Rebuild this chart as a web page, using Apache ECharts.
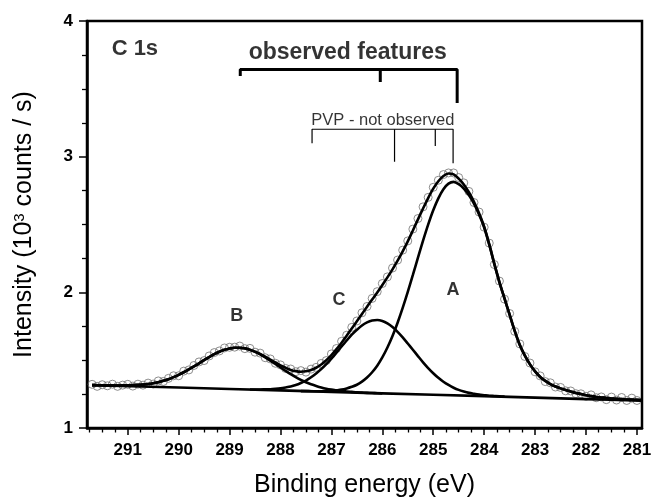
<!DOCTYPE html>
<html><head><meta charset="utf-8">
<script src="https://cdn.jsdelivr.net/npm/echarts@6/dist/echarts.min.js"></script>
<style>html,body{margin:0;padding:0;background:#fff}#c{width:654px;height:502px}</style>
</head><body><div id="c"></div>
<script>
// Binding energy grid (eV)
const energy = [291.7,291.6,291.5,291.4,291.3,291.2,291.1,291.0,
290.9,290.8,290.7,290.6,290.5,290.4,290.3,290.2,290.1,290.0,
289.9,289.8,289.7,289.6,289.5,289.4,289.3,289.2,289.1,289.0,
288.9,288.8,288.7,288.6,288.5,288.4,288.3,288.2,288.1,288.0,
287.9,287.8,287.7,287.6,287.5,287.4,287.3,287.2,287.1,287.0,
286.9,286.8,286.7,286.6,286.5,286.4,286.3,286.2,286.1,286.0,
285.9,285.8,285.7,285.6,285.5,285.4,285.3,285.2,285.1,285.0,
284.9,284.8,284.7,284.6,284.5,284.4,284.3,284.2,284.1,284.0,
283.9,283.8,283.7,283.6,283.5,283.4,283.3,283.2,283.1,283.0,
282.9,282.8,282.7,282.6,282.5,282.4,282.3,282.2,282.1,282.0,
281.9,281.8,281.7,281.6,281.5,281.4,281.3,281.2,281.1,281.0,
280.9];
// measured intensity (open circles), 291.7 .. 281.0
const measured = [1.322,1.307,1.319,1.311,1.323,1.307,1.316,1.322,
1.309,1.323,1.316,1.331,1.324,1.347,1.343,1.366,1.385,1.385,
1.419,1.428,1.461,1.487,1.497,1.531,1.556,1.568,1.590,1.595,
1.596,1.604,1.585,1.587,1.559,1.552,1.518,1.509,1.477,1.465,
1.439,1.435,1.415,1.423,1.412,1.434,1.447,1.476,1.497,1.546,
1.586,1.639,1.684,1.742,1.789,1.849,1.896,1.955,2.005,2.065,
2.114,2.179,2.238,2.311,2.379,2.466,2.544,2.630,2.700,2.774,
2.826,2.868,2.880,2.880,2.846,2.807,2.744,2.662,2.592,2.480,
2.363,2.205,2.083,1.950,1.844,1.712,1.620,1.527,1.479,1.414,
1.384,1.342,1.333,1.302,1.299,1.274,1.273,1.253,1.252,1.234,
1.244,1.223,1.229,1.209,1.228,1.206,1.225,1.203,1.220,1.203];
// total fit envelope, 291.7 .. 280.9
const fitTotal = [1.316,1.315,1.315,1.314,1.314,1.313,1.314,1.314,
1.316,1.318,1.320,1.324,1.330,1.338,1.348,1.360,1.375,1.392,
1.411,1.432,1.454,1.477,1.500,1.523,1.544,1.562,1.576,1.586,
1.592,1.592,1.588,1.577,1.563,1.546,1.526,1.504,1.483,1.462,
1.444,1.428,1.419,1.415,1.418,1.427,1.444,1.468,1.499,1.537,
1.581,1.629,1.680,1.734,1.786,1.840,1.894,1.947,1.999,2.054,
2.110,2.169,2.233,2.302,2.376,2.456,2.538,2.618,2.695,2.764,
2.819,2.858,2.876,2.870,2.838,2.795,2.738,2.667,2.583,2.484,
2.355,2.211,2.076,1.955,1.835,1.716,1.612,1.533,1.469,1.417,
1.376,1.347,1.324,1.306,1.292,1.280,1.269,1.258,1.250,1.241,
1.235,1.229,1.225,1.221,1.218,1.215,1.213,1.210,1.209,1.207,
1.206];
// component B (+ background), 291.7 .. 286.0
const peakBStart = 291.7;
const peakB = [1.316,1.315,1.315,1.314,1.314,1.313,1.314,1.314,
1.316,1.318,1.320,1.324,1.330,1.338,1.348,1.360,1.375,1.392,
1.411,1.432,1.454,1.477,1.500,1.523,1.544,1.562,1.576,1.586,
1.592,1.592,1.587,1.576,1.561,1.543,1.521,1.497,1.472,1.446,
1.421,1.397,1.375,1.355,1.337,1.322,1.310,1.299,1.290,1.283,
1.277,1.273,1.269,1.266,1.263,1.261,1.259,1.258,1.256,1.255];
// component C (+ background), 288.6 .. 283.6
const peakCStart = 288.6;
const peakC = [1.284,1.284,1.284,1.285,1.286,1.289,1.293,
1.299,1.306,1.317,1.332,1.350,1.374,1.402,1.434,1.471,1.512,
1.556,1.601,1.645,1.688,1.724,1.756,1.779,1.793,1.796,1.789,
1.771,1.744,1.709,1.668,1.623,1.577,1.530,1.484,1.442,1.404,
1.370,1.341,1.317,1.297,1.281,1.269,1.259,1.252,1.246,1.242,
1.238,1.236,1.234,1.231];
// component A (+ background), 287.6 .. 280.9
const peakAStart = 287.6;
const peakA = [1.272,1.272,1.271,1.271,1.271,1.272,1.274,
1.278,1.283,1.292,1.304,1.319,1.342,1.372,1.411,1.459,1.520,
1.593,1.678,1.776,1.885,2.003,2.128,2.256,2.381,2.499,2.605,
2.693,2.760,2.801,2.814,2.797,2.765,2.717,2.653,2.573,2.478,
2.351,2.208,2.074,1.954,1.835,1.716,1.612,1.533,1.469,1.417,
1.376,1.347,1.324,1.306,1.292,1.280,1.269,1.258,1.250,1.241,
1.235,1.229,1.225,1.221,1.218,1.215,1.213,1.210,1.209,1.207,
1.206];
// background
const bgEnergy = [291.7,290.0,288.0,286.0,284.0,282.0,280.9];
const bgValue = [1.316,1.298,1.277,1.255,1.235,1.213,1.201];
// axis ticks
const xMajorTicks = [281,282,283,284,285,286,287,288,289,290,291];
const xMinorTicks = [281.25,281.5,281.75,282.25,282.5,282.75,283.25,283.5,283.75,284.25,284.5,284.75,
285.25,285.5,285.75,286.25,286.5,286.75,287.25,287.5,287.75,288.25,288.5,288.75,
289.25,289.5,289.75,290.25,290.5,290.75,291.25,291.5,291.75];
const xMin = 280.9, xMax = 291.8;
// annotation brackets (data coordinates)
const observedX = [288.79, 286.04, 284.53];
const observedTop = 3.642;
const observedEnds = [3.594, 3.550, 3.395];
const pvpX = [287.38, 285.76, 284.96, 284.61];
const pvpTop = 3.202;
const pvpEnds = [3.098, 2.963, 3.079, 2.951];
// text annotations
const notes = [
  {text: 'C 1s', x: 290.86, y: 3.794, size: 22, weight: 'bold'},
  {text: 'observed features', x: 286.68, y: 3.764, size: 23, weight: 'bold'},
  {text: 'PVP - not observed', x: 285.99, y: 3.270, size: 16.5, weight: 'normal'},
  {text: 'A', x: 284.61, y: 2.017, size: 18, weight: 'bold'},
  {text: 'B', x: 288.86, y: 1.826, size: 18, weight: 'bold'},
  {text: 'C', x: 286.85, y: 1.943, size: 18, weight: 'bold'}
];

const FONT = '"Liberation Sans", Arial, sans-serif';
function pairs(start, arr) {
  const i0 = energy.indexOf(start);
  return arr.map((v, i) => [energy[i0 + i], v]);
}
const lineStyle = {color: '#000', width: 2.6};
function fitLine(name, data) {
  return {name, type: 'line', data, smooth: 0.3, showSymbol: false, symbol: 'none',
    lineStyle, z: 3, silent: true, animation: false};
}
function seg(data, width) {
  return {type: 'line', data, showSymbol: false, symbol: 'none',
    lineStyle: {color: '#000', width}, z: 4, silent: true, animation: false};
}
const series = [
  {name: 'measured', type: 'scatter', data: measured.map((v, i) => [energy[i], v]),
   symbol: 'circle', symbolSize: 8,
   itemStyle: {color: 'rgba(0,0,0,0)', borderColor: '#707070', borderWidth: 1},
   z: 2, silent: true, animation: false},
  fitLine('background', bgEnergy.map((x, i) => [x, bgValue[i]])),
  fitLine('B', pairs(peakBStart, peakB)),
  fitLine('C', pairs(peakCStart, peakC)),
  fitLine('A', pairs(peakAStart, peakA)),
  fitLine('fit', energy.map((x, i) => [x, fitTotal[i]]))
];
// observed features bracket
series.push(seg([[observedX[0], observedEnds[0]], [observedX[0], observedTop], [observedX[2], observedTop], [observedX[2], observedEnds[2]]], 3));
series.push(seg([[observedX[1], observedTop], [observedX[1], observedEnds[1]]], 3));
// PVP bracket
series.push(seg([[pvpX[0], pvpEnds[0]], [pvpX[0], pvpTop], [pvpX[3], pvpTop], [pvpX[3], pvpEnds[3]]], 1.2));
series.push(seg([[pvpX[1], pvpTop], [pvpX[1], pvpEnds[1]]], 1.2));
series.push(seg([[pvpX[2], pvpTop], [pvpX[2], pvpEnds[2]]], 1.2));
// text labels
series.push({type: 'scatter', symbolSize: 0.1, itemStyle: {color: 'rgba(0,0,0,0)'}, z: 5,
  silent: true, animation: false,
  data: notes.map(n => ({value: [n.x, n.y],
    label: {show: true, position: 'inside', formatter: n.text, color: '#000',
      fontSize: n.size, fontWeight: n.weight, fontFamily: FONT}}))});

const chart = echarts.init(document.getElementById('c'), null, {renderer: 'canvas'});
chart.setOption({
  animation: false,
  backgroundColor: '#fff',
  grid: {left: 87, right: 12, top: 21, bottom: 74, containLabel: false, outerBoundsMode: 'none',
    show: true, borderColor: '#000', borderWidth: 2.5, backgroundColor: 'transparent'},
  xAxis: [{
    type: 'value', min: xMin, max: xMax, inverse: true,
    name: 'Binding energy (eV)', nameLocation: 'middle', nameGap: 45,
    nameTextStyle: {fontSize: 25, fontFamily: FONT, color: '#000'},
    axisLine: {show: true, lineStyle: {color: '#000', width: 2.5}},
    axisTick: {show: true, length: 7, lineStyle: {color: '#000', width: 1.5}, customValues: xMajorTicks},
    axisLabel: {customValues: xMajorTicks, fontSize: 17, fontWeight: 'bold', fontFamily: FONT, color: '#000', margin: 14},
    splitLine: {show: false}
  }, {
    type: 'value', min: xMin, max: xMax, inverse: true, position: 'bottom', offset: 0,
    axisLine: {show: false},
    axisTick: {show: true, length: 4.5, lineStyle: {color: '#000', width: 1.3}, customValues: xMinorTicks},
    axisLabel: {show: false},
    splitLine: {show: false}
  }],
  yAxis: {
    type: 'value', min: 1, max: 4, interval: 1,
    name: 'Intensity (10{sup|3} counts / s)', nameLocation: 'middle', nameGap: 50,
    nameTextStyle: {fontSize: 25, fontFamily: FONT, color: '#000',
      rich: {sup: {fontSize: 15, fontFamily: FONT, color: '#000', verticalAlign: 'top', lineHeight: 25}}},
    axisLine: {show: true, lineStyle: {color: '#000', width: 2.5}},
    axisTick: {show: true, length: 8, lineStyle: {color: '#000', width: 1.5}},
    minorTick: {show: true, splitNumber: 4, length: 5, lineStyle: {color: '#000', width: 1.3}},
    axisLabel: {fontSize: 17, fontWeight: 'bold', fontFamily: FONT, color: '#000', margin: 14},
    splitLine: {show: false}, minorSplitLine: {show: false}
  },
  series
});
</script></body></html>
